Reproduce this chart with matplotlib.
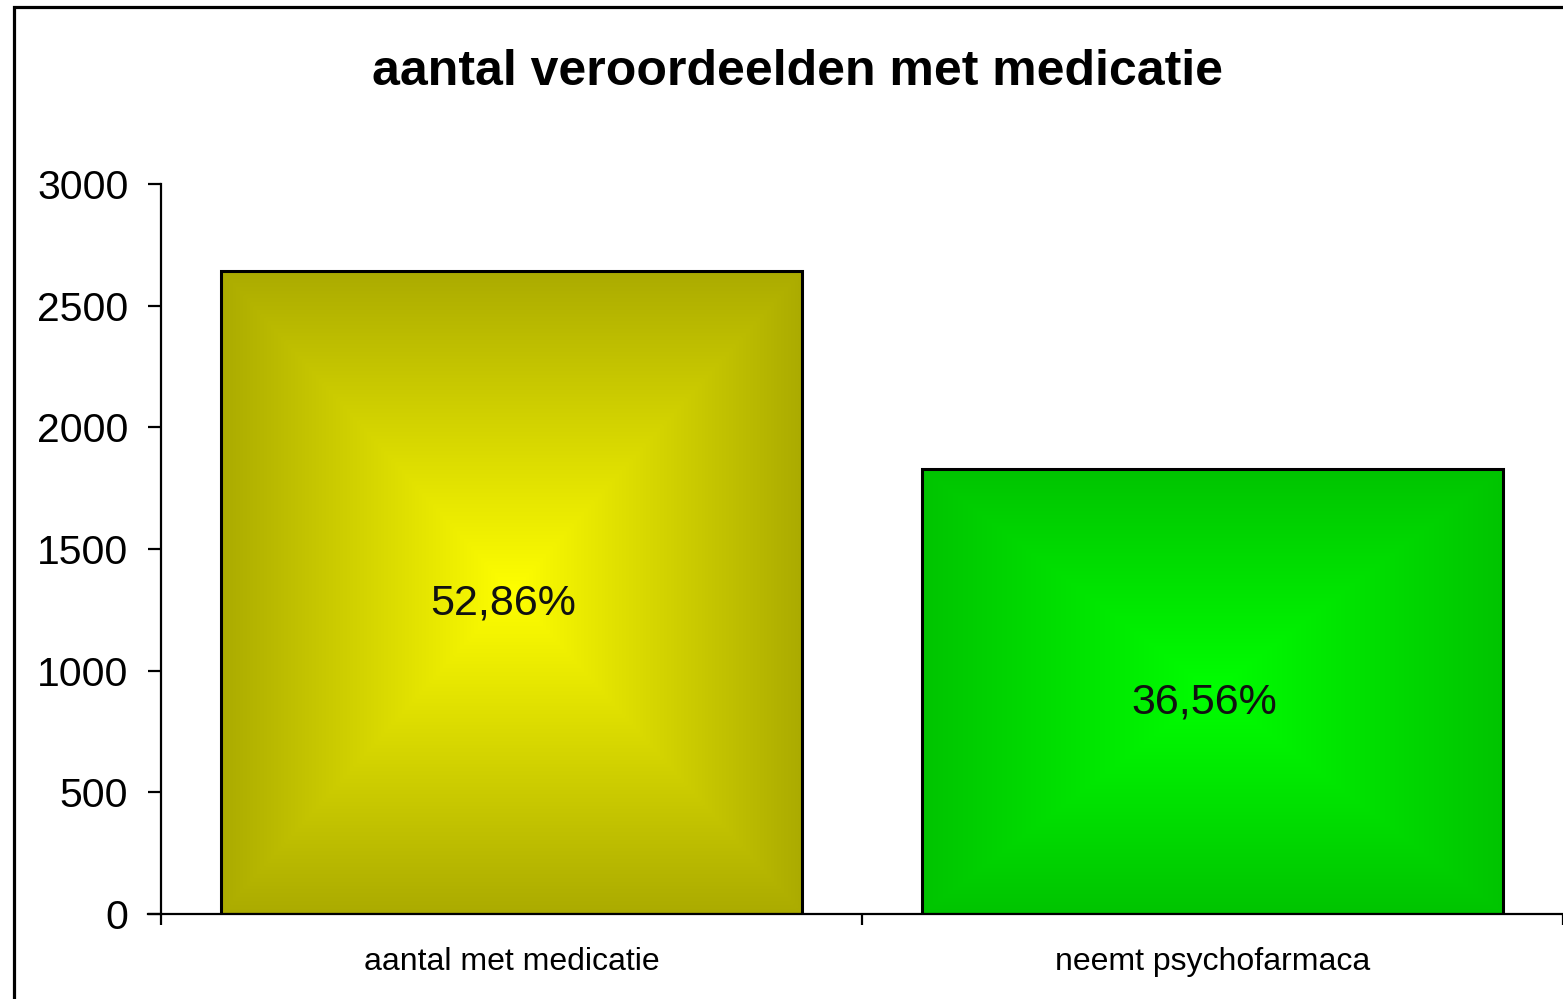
import numpy as np
import matplotlib.pyplot as plt
from matplotlib.patches import Rectangle
from matplotlib.colors import to_rgb

plt.rcParams['font.family'] = ['Liberation Sans', 'DejaVu Sans']

# data
categories = ['aantal met medicatie', 'neemt psychofarmaca']
values = [2643, 1828]
pct_labels = ['52,86%', '36,56%']
center_colors = ['#FFFF00', '#00FF00']
edge_colors = ['#ABAB00', '#00C400']
yticks = [0, 500, 1000, 1500, 2000, 2500, 3000]

fig = plt.figure(figsize=(15.63, 9.99), dpi=100)
fig.patches.append(Rectangle((14 / 1563, -0.05), 1.2, 1 - 7 / 999 + 0.05,
                             transform=fig.transFigure, fill=False,
                             edgecolor='black', linewidth=2.3))

ax = fig.add_axes([161 / 1563, 85 / 999, 1 - 161 / 1563, 730 / 999])

bw = 0.83
n = 200
u = np.linspace(-1, 1, n)
U, V = np.meshgrid(u, u)
T = np.maximum(np.abs(U), np.abs(V))
for i, (v, c0, c1) in enumerate(zip(values, center_colors, edge_colors)):
    a = np.array(to_rgb(c0))
    b = np.array(to_rgb(c1))
    img = a[None, None, :] * (1 - T[..., None]) + b[None, None, :] * T[..., None]
    ax.imshow(img, extent=(i - bw / 2, i + bw / 2, 0, v), aspect='auto',
              interpolation='bilinear', zorder=1)
    ax.add_patch(Rectangle((i - bw / 2, 0), bw, v, fill=False,
                           edgecolor='black', linewidth=2.2, zorder=2))
    ax.text(i - 0.012, v / 2 - 45, pct_labels[i], ha='center', va='center',
            fontsize=31, color='#111111', zorder=3)

ax.set_xlim(-0.5, 1.5)
ax.set_ylim(0, 3000)

for s in ['top', 'right']:
    ax.spines[s].set_visible(False)
ax.spines['left'].set_linewidth(1.6)
ax.spines['bottom'].set_linewidth(1.6)
ax.spines['bottom'].set_bounds(-0.5 - 13 / 701, 1.5)

ax.set_yticks(yticks)
ax.set_yticklabels([str(t) for t in yticks], fontsize=29.5)
ax.tick_params(axis='y', direction='out', length=9.5, width=1.6, pad=14)

ax.set_xticks([0, 1])
ax.set_xticklabels(categories, fontsize=23)
ax.set_xticks([-0.5, 0.5, 1.5], minor=True)
ax.tick_params(axis='x', which='major', length=0, pad=24)
ax.tick_params(axis='x', which='minor', direction='out', length=8, width=1.6)

fig.text(797 / 1563, 1 - 72 / 999, 'aantal veroordeelden met medicatie',
         ha='center', va='center', fontsize=36, fontweight='bold')

fig.savefig('out.png', dpi=100)
